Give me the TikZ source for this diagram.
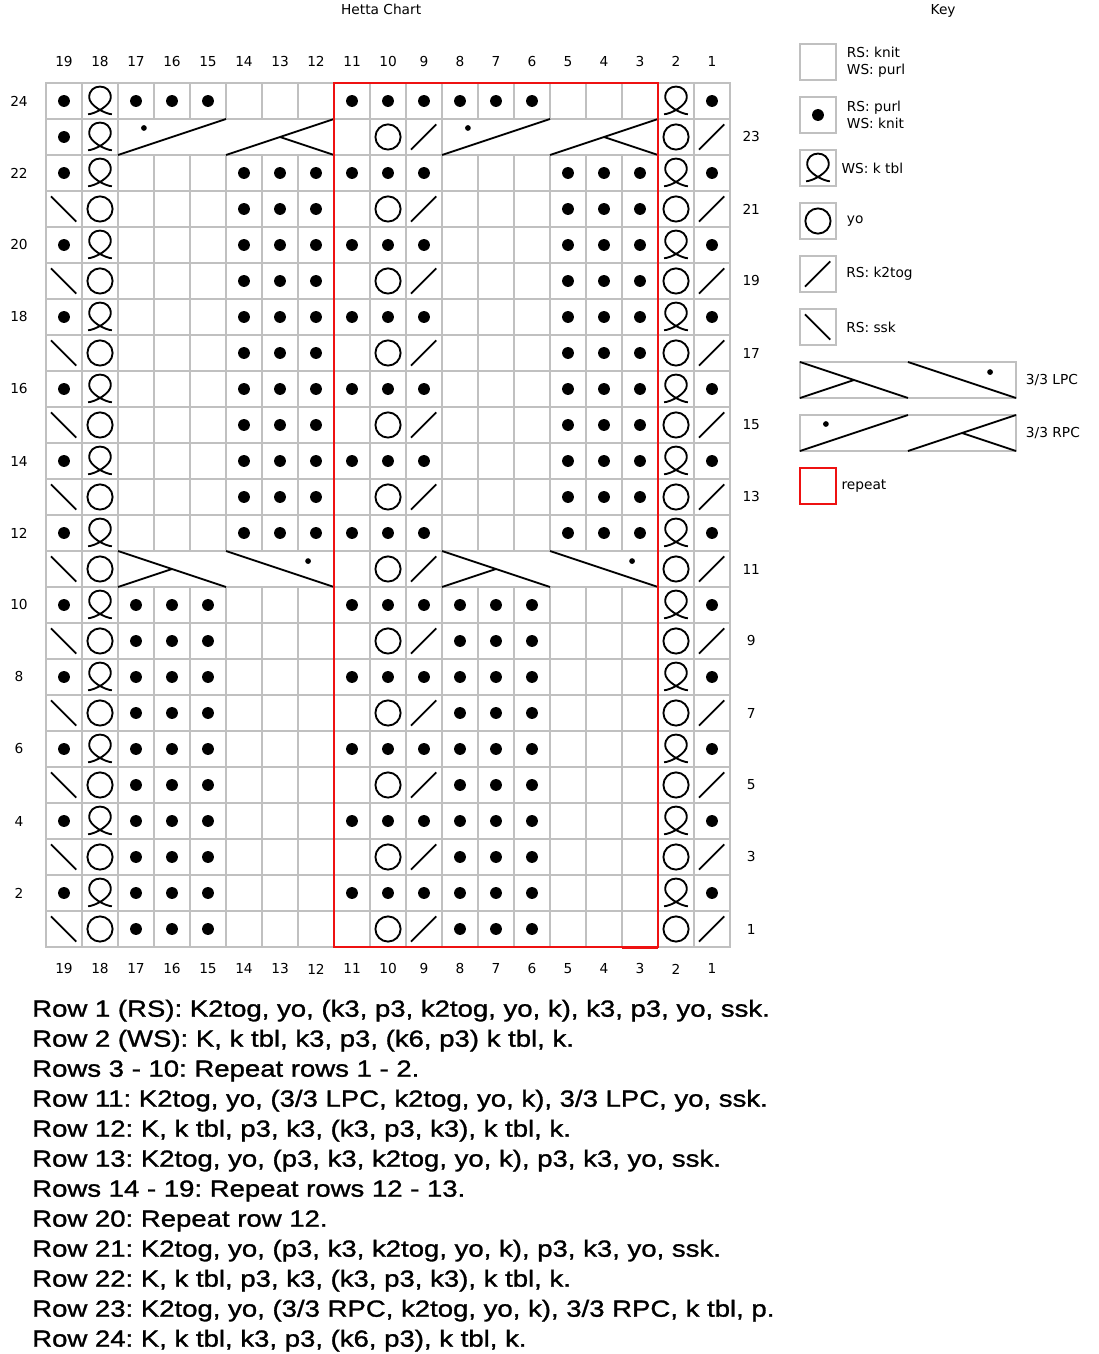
\documentclass[tikz,border=0pt]{standalone}
\usepackage{fontspec}
\usetikzlibrary{positioning}
\newfontfamily\chartfont{DejaVu Sans}
\newfontfamily\rowfont[FakeStretch=1.18,FakeBold=1.2]{Liberation Sans}
\definecolor{gridgray}{HTML}{C0C0C0}
\definecolor{repeatred}{HTML}{EE1111}
\frenchspacing

\begin{document}
\begin{tikzpicture}[
  x=27pt, y=27pt,
  gridline/.style={draw=gridgray, line width=1.5pt},
  symline/.style={line width=1.4pt},
  repeatline/.style={draw=repeatred, line width=1.6pt},
  chartlabel/.style={font=\chartfont\fontsize{10.3pt}{13pt}\selectfont, inner sep=0pt},
  keylabel/.style={chartlabel, align=left},
  keybox/.style={draw=gridgray, line width=1.5pt, minimum width=27pt,
    minimum height=27pt, inner sep=0pt, outer sep=0pt},
  cablebox/.style={keybox, minimum width=162pt},
  rowtext/.style={font=\rowfont\fontsize{17.5pt}{21pt}\selectfont,
    inner sep=0pt, anchor=base west},
  purldot/.pic={\fill (0,0) circle (0.165);},
  yocircle/.pic={\draw[symline] (0,0) circle (0.35);},
  ktog/.pic={\draw[symline] (-0.36,-0.35) -- (0.34,0.35);},
  sskline/.pic={\draw[symline] (-0.36,0.35) -- (0.34,-0.35);},
  tblloop/.pic={\draw[symline] (-0.33,-0.37) .. controls (-0.12,-0.35) and (0.3,-0.12) .. (0.3,0.1)
    .. controls (0.3,0.3) and (0.16,0.4) .. (0,0.4)
    .. controls (-0.16,0.4) and (-0.3,0.3) .. (-0.3,0.1)
    .. controls (-0.3,-0.12) and (0.12,-0.35) .. (0.33,-0.37);},
  rpccable/.pic={\draw[symline] (0,0) -- (3,1) (3,0) -- (6,1) (4.5,0.5) -- (6,0);
    \fill (0.72,0.75) circle (0.08);},
  lpccable/.pic={\draw[symline] (0,1) -- (3,0) (3,1) -- (6,0) (0,0) -- (1.5,0.5);
    \fill (5.28,0.72) circle (0.08);}]

  \path[fill=white, use as bounding box] (-1.2778,-11.3056) rectangle (29.25,26.3056);

  % grid
  \foreach \r in {1,...,10,12,13,...,22,24}
    \foreach \c in {1,...,19}
      \draw[gridline] (19-\c,\r-1) rectangle ++(1,1);
  \foreach \r in {11,23} {
    \foreach \c in {1,2,9,10,11,18,19}
      \draw[gridline] (19-\c,\r-1) rectangle ++(1,1);
    \draw[gridline] (2,\r-1) rectangle ++(6,1);
    \draw[gridline] (11,\r-1) rectangle ++(6,1);
  }

  % wrong side rows
  \foreach \r in {2,4,...,10,24} {
    \foreach \c in {19,17,16,15,11,10,9,8,7,6,1}
      \pic at (19.5-\c,\r-0.5) {purldot};
    \foreach \c in {18,2}
      \pic at (19.5-\c,\r-0.5) {tblloop};
  }
  \foreach \r in {12,14,...,22} {
    \foreach \c in {19,14,13,12,11,10,9,5,4,3,1}
      \pic at (19.5-\c,\r-0.5) {purldot};
    \foreach \c in {18,2}
      \pic at (19.5-\c,\r-0.5) {tblloop};
  }

  % right side rows
  \foreach \r in {1,3,...,21} {
    \pic at (0.5,\r-0.5) {sskline};
    \foreach \c in {18,10,2}
      \pic at (19.5-\c,\r-0.5) {yocircle};
    \foreach \c in {9,1}
      \pic at (19.5-\c,\r-0.5) {ktog};
  }
  \foreach \r in {1,3,...,9}
    \foreach \c in {17,16,15,8,7,6}
      \pic at (19.5-\c,\r-0.5) {purldot};
  \foreach \r in {13,15,...,21}
    \foreach \c in {14,13,12,5,4,3}
      \pic at (19.5-\c,\r-0.5) {purldot};
  \pic at (2,10) {lpccable};
  \pic at (11,10) {lpccable};

  % row 23
  \pic at (0.5,22.5) {purldot};
  \pic at (1.5,22.5) {tblloop};
  \foreach \c in {10,2}
    \pic at (19.5-\c,22.5) {yocircle};
  \foreach \c in {9,1}
    \pic at (19.5-\c,22.5) {ktog};
  \pic at (2,22) {rpccable};
  \pic at (11,22) {rpccable};

  % repeat
  \draw[repeatline] (8,0) rectangle (17,24);
  \draw[draw=repeatred, line width=2.5pt] (16,-0.012) -- (17,-0.012);

  % numbers
  \foreach \c in {1,...,19} {
    \node[chartlabel] (top\c) at (19.5-\c,24.59) {\c};
    \node[chartlabel] (bot\c) at (19.5-\c,-0.61) {\c};
  }
  \foreach \r in {2,4,...,24}
    \node[chartlabel] (lrow\r) at (-0.75,\r-0.5) {\r};
  \foreach \r in {1,3,...,23}
    \node[chartlabel] (rrow\r) at (19.59,\r-0.5) {\r};

  \node[chartlabel, anchor=base] (title) at (9.31,25.889) {Hetta Chart};
  \node[chartlabel, anchor=base] (keytitle) at (24.92,25.889) {Key};

  % key
  \node[keybox] (kknit) at (21.444,24.583) {};
  \node[keybox, below=12.75pt of kknit] (kpurl) {};
  \node[keybox, below=12.75pt of kpurl] (ktbl) {};
  \node[keybox, below=12.75pt of ktbl] (kyo) {};
  \node[keybox, below=12.75pt of kyo] (kktog) {};
  \node[keybox, below=12.75pt of kktog] (kssk) {};
  \node[cablebox, below right=12.75pt and 0pt of kssk.south west] (klpc) {};
  \node[cablebox, below right=12.75pt and 0pt of klpc.south west] (krpc) {};
  \node[keybox, draw=repeatred, below right=12.75pt and 0pt of krpc.south west] (krep) {};

  \pic at (kpurl.center) {purldot};
  \pic at (ktbl.center) {tblloop};
  \pic at (kyo.center) {yocircle};
  \pic at (kktog.center) {ktog};
  \pic at (kssk.center) {sskline};
  \pic at (klpc.south west) {lpccable};
  \pic at (krpc.south west) {rpccable};

  \node[keylabel, right=8pt of kknit] (lknit) {RS: knit\\WS: purl};
  \node[keylabel, right=8pt of kpurl] (lpurl) {RS: purl\\WS: knit};
  \node[keylabel, right=4pt of ktbl] (ltbl) {WS: k tbl};
  \node[keylabel, right=8pt of kyo] (lyo) {yo};
  \node[keylabel, right=7.5pt of kktog] (lktog) {RS: k2tog};
  \node[keylabel, right=7.5pt of kssk] (lssk) {RS: ssk};
  \node[keylabel, right=7.3pt of klpc] (llpc) {3/3 LPC};
  \node[keylabel, right=7.3pt of krpc] (lrpc) {3/3 RPC};
  \node[keylabel, right=4pt of krep] (lrep) {repeat};

  % written instructions
  \foreach \txt [count=\i] in {
    {Row 1 (RS): K2tog, yo, (k3, p3, k2tog, yo, k), k3, p3, yo, ssk.},
    {Row 2 (WS): K, k tbl, k3, p3, (k6, p3) k tbl, k.},
    {Rows 3 - 10: Repeat rows 1 - 2.},
    {Row 11: K2tog, yo, (3/3 LPC, k2tog, yo, k), 3/3 LPC, yo, ssk.},
    {Row 12: K, k tbl, p3, k3, (k3, p3, k3), k tbl, k.},
    {Row 13: K2tog, yo, (p3, k3, k2tog, yo, k), p3, k3, yo, ssk.},
    {Rows 14 - 19: Repeat rows 12 - 13.},
    {Row 20: Repeat row 12.},
    {Row 21: K2tog, yo, (p3, k3, k2tog, yo, k), p3, k3, yo, ssk.},
    {Row 22: K, k tbl, p3, k3, (k3, p3, k3), k tbl, k.},
    {Row 23: K2tog, yo, (3/3 RPC, k2tog, yo, k), 3/3 RPC, k tbl, p.},
    {Row 24: K, k tbl, k3, p3, (k6, p3), k tbl, k.}}
    \node[rowtext] (line\i) at (-0.389,{-1.936-0.8333*(\i-1)}) {\txt};
\end{tikzpicture}
\end{document}
